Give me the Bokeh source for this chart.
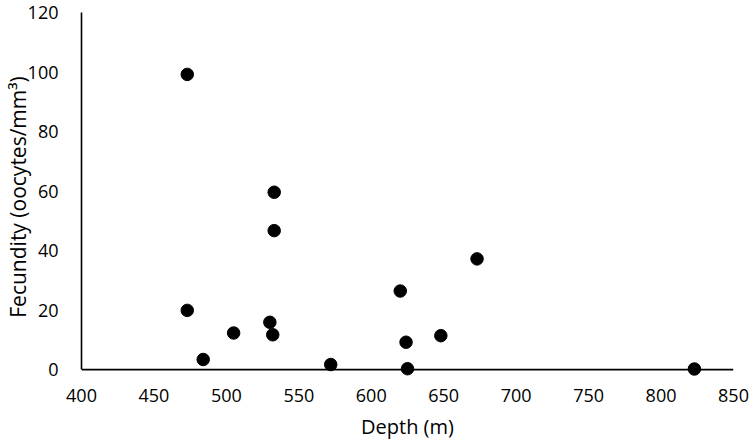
from bokeh.plotting import figure
from bokeh.models import Range1d, SingleIntervalTicker, Span
from bokeh.embed import file_html
from bokeh.resources import INLINE

# Depth (m) and fecundity (oocytes/mm³) per specimen
depth = [473, 473, 484, 505, 533, 533, 530, 532, 572, 620, 624, 625, 648, 673, 823]
fecundity = [99.2, 19.9, 3.4, 12.3, 59.6, 46.7, 15.9, 11.7, 1.7, 26.4, 9.2, 0.3, 11.4, 37.2, 0.2]

FONT = "Open Sans"

# the frame reaches a little below zero so markers sitting on the axis stay whole
p = figure(
    width=750, height=442,
    x_range=Range1d(400, 850), y_range=Range1d(-4, 120),
    output_backend="svg", toolbar_location=None,
    min_border_left=81, min_border_right=17,
    min_border_top=12, min_border_bottom=60,
)
p.outline_line_color = None
p.xgrid.visible = False
p.ygrid.visible = False

# x axis line drawn at zero, beneath the markers
p.add_layout(Span(location=0, dimension="width", line_color="#000000",
                  line_width=1.6, level="underlay"))

p.scatter(depth, fecundity, size=12.5, marker="circle",
          fill_color="#000000", line_color="#000000")

p.xaxis.ticker = SingleIntervalTicker(interval=50)
p.yaxis.ticker = SingleIntervalTicker(interval=20)
p.xaxis.axis_label = "Depth (m)"
p.yaxis.axis_label = "Fecundity (oocytes/mm³)"
p.yaxis.bounds = (0, 120)
p.xaxis.axis_line_color = None
p.yaxis.axis_line_color = "#000000"
p.yaxis.axis_line_width = 1.6

for ax in (p.xaxis, p.yaxis):
    ax.major_tick_line_color = None
    ax.minor_tick_line_color = None
    ax.major_label_text_font = FONT
    ax.major_label_text_font_size = "18px"
    ax.major_label_text_color = "#000000"
    ax.axis_label_text_font = FONT
    ax.axis_label_text_font_style = "normal"
    ax.axis_label_text_color = "#000000"

p.xaxis.axis_label_text_font_size = "20px"
p.yaxis.axis_label_text_font_size = "21px"

p.xaxis.major_label_standoff = 1
p.xaxis.axis_label_standoff = 8
p.yaxis.major_label_standoff = 17
p.yaxis.axis_label_standoff = -7

open("out.html", "w").write(file_html(p, INLINE))
